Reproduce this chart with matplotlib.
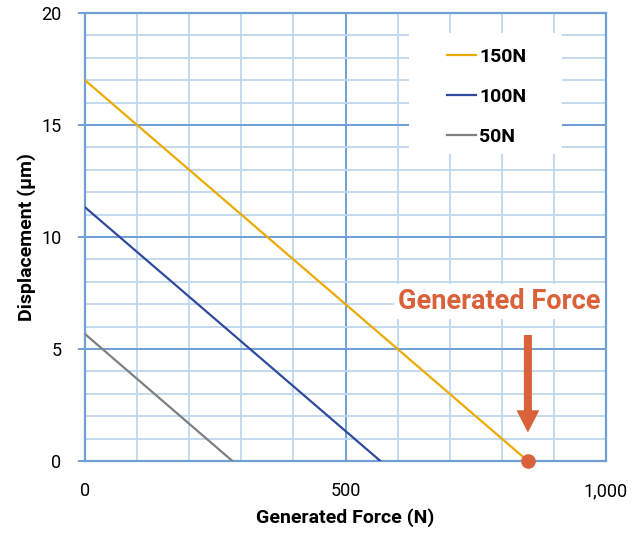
import matplotlib
matplotlib.use("Agg")
import matplotlib.pyplot as plt
from matplotlib.ticker import MultipleLocator, FuncFormatter
from matplotlib.patches import FancyArrowPatch, ArrowStyle, Rectangle

plt.rcParams["font.family"] = ["Roboto", "DejaVu Sans"]

# data
labels = ["150N", "100N", "50N"]
force_150 = [0, 850]
disp_150 = [17.0, 0.0]
force_100 = [0, 567]
disp_100 = [11.33, 0.0]
force_50 = [0, 283]
disp_50 = [5.67, 0.0]
colors = ["#EDAA00", "#2F4A9E", "#7F7F7F"]

marker_force = 850
marker_disp = 0.0
note_text = "Generated Force"
accent = "#D9623B"

fig = plt.figure(figsize=(6.42, 5.33), dpi=100)
ax = fig.add_axes([0.1324, 0.135, 0.8116, 0.8406])

for fx, dy, c, lab in zip([force_150, force_100, force_50],
                          [disp_150, disp_100, disp_50], colors, labels):
    ax.plot(fx, dy, color=c, lw=1.6, label=lab, zorder=3)

ax.plot([marker_force], [marker_disp], "o", color=accent, ms=9.5,
        clip_on=False, zorder=5)

ax.set_xlim(0, 1000)
ax.set_ylim(0, 20)
ax.xaxis.set_major_locator(MultipleLocator(500))
ax.xaxis.set_minor_locator(MultipleLocator(100))
ax.yaxis.set_major_locator(MultipleLocator(5))
ax.yaxis.set_minor_locator(MultipleLocator(1))
ax.xaxis.set_major_formatter(FuncFormatter(lambda v, p: f"{v:,.0f}"))

ax.grid(True, which="minor", color="#BDD7EE", lw=1.3, zorder=0)
ax.grid(True, which="major", color="#6F9FD3", lw=1.4, zorder=1)
ax.set_axisbelow(True)
for s in ax.spines.values():
    s.set_color("#6F9FD3")
    s.set_linewidth(1.6)

ax.tick_params(axis="y", which="major", length=5, color="#6F9FD3", width=1.4,
               labelsize=13, pad=12)
ax.tick_params(axis="x", which="major", length=0, labelsize=13, pad=15)
ax.tick_params(which="minor", length=0)

ax.set_xlabel("Generated Force (N)", fontsize=14, fontweight="bold", labelpad=6)
ax.set_ylabel("Displacement (µm)", fontsize=14, fontweight="bold", labelpad=4)

# white panel behind the legend, covering the grid
ax.add_patch(Rectangle((0.622, 0.685), 0.2935, 0.27, transform=ax.transAxes,
                       facecolor="white", edgecolor="none", zorder=2))
leg = ax.legend(loc="upper left", bbox_to_anchor=(0.695, 0.922), borderaxespad=0,
                frameon=False, handlelength=1.5, handletextpad=0.15,
                labelspacing=1.14, borderpad=0, prop={"weight": "bold", "size": 14})
leg.set_zorder(6)

ax.text(0.795, 0.357, note_text, transform=ax.transAxes, ha="center", va="center",
        fontsize=19.5, fontweight="bold", color=accent, zorder=6,
        bbox=dict(facecolor="white", edgecolor="none", pad=3))

arrow = FancyArrowPatch((marker_force, 5.75), (marker_force, 1.15),
                        arrowstyle=ArrowStyle.Simple(head_length=16, head_width=16.5,
                                                     tail_width=5.8),
                        mutation_scale=1, color=accent, lw=0, zorder=6)
ax.add_patch(arrow)

fig.savefig("out.png", dpi=100)
